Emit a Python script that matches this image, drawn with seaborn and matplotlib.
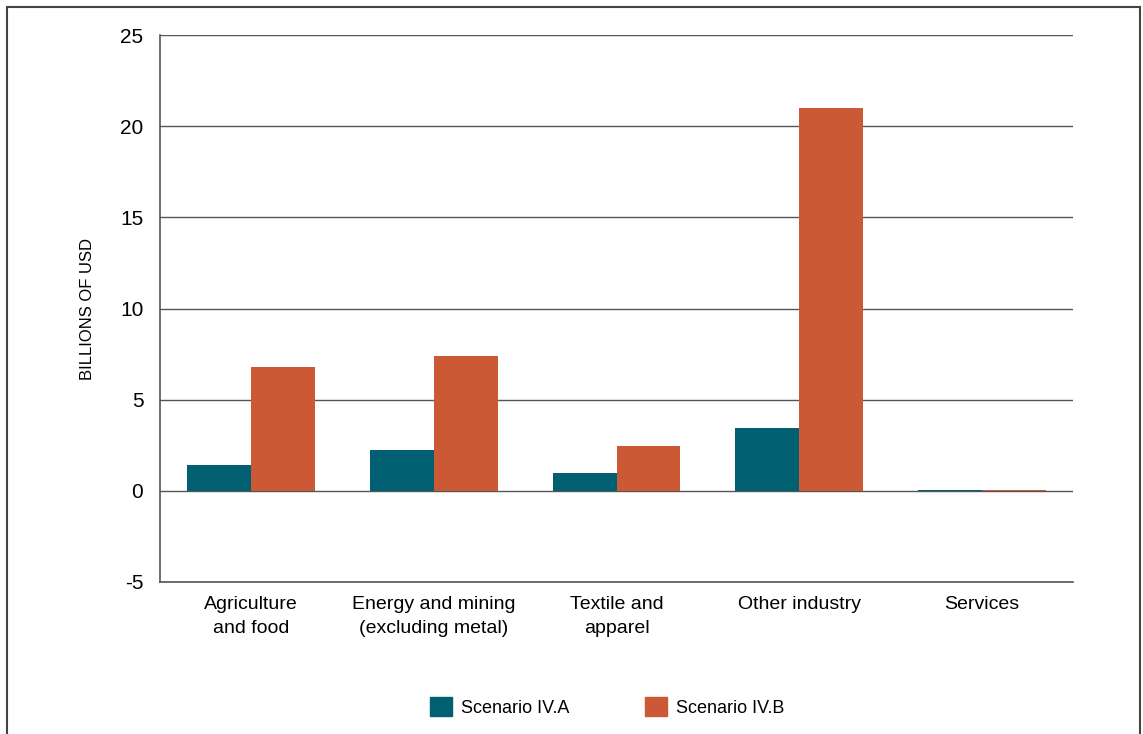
import pandas as pd
import seaborn as sns
import matplotlib.pyplot as plt
from matplotlib.patches import Rectangle, Patch

# Data
categories = ["Agriculture\nand food", "Energy and mining\n(excluding metal)",
              "Textile and\napparel", "Other industry", "Services"]
scenario_a = [1.43, 2.25, 1.0, 3.46, 0.05]
scenario_b = [6.8, 7.4, 2.47, 21.0, 0.05]
series_names = ["Scenario IV.A", "Scenario IV.B"]
colors = ["#005F70", "#CB5935"]

df = pd.DataFrame({
    "category": categories * 2,
    "value": scenario_a + scenario_b,
    "scenario": [series_names[0]] * 5 + [series_names[1]] * 5,
})

sns.set_style("white")
plt.rcParams["font.family"] = ["Liberation Sans Narrow", "Liberation Sans", "DejaVu Sans"]
plt.rcParams["axes.unicode_minus"] = False
plt.rcParams["text.color"] = "black"
plt.rcParams["xtick.color"] = "black"
plt.rcParams["ytick.color"] = "black"

fig = plt.figure(figsize=(11.43, 7.34), dpi=100)
ax = fig.add_axes([0.14, 0.2071, 0.7988, 0.7452])

sns.barplot(data=df, x="category", y="value", hue="scenario",
            palette=colors, width=0.7, saturation=1, linewidth=0,
            ax=ax, legend=False)

ax.set_ylim(-5, 25)
ax.set_xlim(-0.5, 4.5)
ax.set_yticks(range(-5, 30, 5))
ax.yaxis.grid(True, color="#555555", linewidth=1)
ax.set_axisbelow(True)
for s in ["top", "right"]:
    ax.spines[s].set_visible(False)
for s in ["left", "bottom"]:
    ax.spines[s].set_color("#555555")
    ax.spines[s].set_linewidth(1.2)
ax.tick_params(axis="both", length=0)
ax.tick_params(axis="y", labelsize=15, pad=12)
ax.tick_params(axis="x", labelsize=14, pad=10)
for lbl in ax.get_xticklabels():
    lbl.set_linespacing(1.55)
ax.set_xlabel("")
ax.set_ylabel("BILLIONS OF USD", fontsize=12, labelpad=18, color="black")

handles = [Patch(color=c) for c in colors]
fig.legend(handles, series_names, loc="center", bbox_to_anchor=(0.531, 0.037),
           ncol=2, frameon=False, fontsize=13, handlelength=1.2, handleheight=1.2,
           columnspacing=4.2, handletextpad=0.5)

# frame around the figure
fig.patches.append(Rectangle((7 / 1143, -0.05), 1133 / 1143, 1.05 - 7 / 734,
                             transform=fig.transFigure, fill=False,
                             edgecolor="#444444", linewidth=1.5))

fig.savefig("out.png", dpi=100)
